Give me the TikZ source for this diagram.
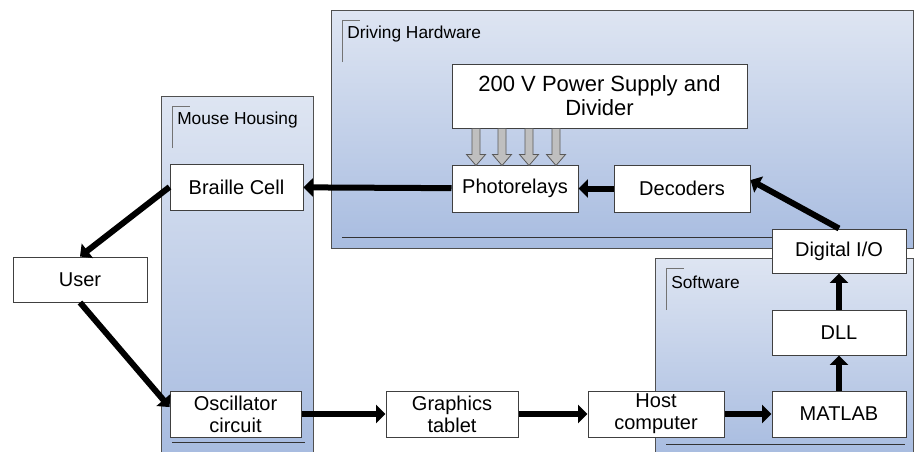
\documentclass[tikz,border=0pt]{standalone}
\usepackage{fontspec}
\setmainfont{Liberation Sans}
\usetikzlibrary{arrows.meta}
\definecolor{grouptop}{RGB}{222,229,242}
\definecolor{groupbottom}{RGB}{168,188,224}
\definecolor{groupline}{RGB}{80,80,80}
\tikzset{
block/.style={draw=black!75, fill=white, line width=0.75pt, minimum width=100.5pt, minimum height=34.5pt, inner sep=0pt, align=center, font=\fontsize{15}{16.5}\selectfont},
flow/.style={line width=4.5pt, -{Triangle[length=7pt,width=13.5pt]}},
feed/.style={draw=black!65, fill=black!25, line width=0.6pt},
grouptitle/.style={anchor=west, inner sep=0pt, font=\fontsize{13}{14}\selectfont}
}
\newcommand{\groupbox}[6]{
\draw[draw=groupline, line width=0.75pt, top color=grouptop, bottom color=groupbottom] (#1,#2) rectangle (#3,#4);
\draw[black!55, line width=0.6pt] (#1+11,#2+52) -- (#1+11,#2+10) -- (#1+29,#2+10);
\node[grouptitle] (#6) at (#1+16,#2+24) {#5};
\draw[black!80, line width=0.6pt] (#1+11,#4-11) -- (#3-8,#4-11);
}

\begin{document}
\begin{tikzpicture}[x=0.75pt,y=-0.75pt]
\useasboundingbox (0,0) rectangle (914,451);

\groupbox{331}{10}{913}{248}{Driving Hardware}{hwtitle}
\groupbox{161}{96}{313}{453}{Mouse Housing}{mousetitle}
\groupbox{655}{258}{913}{455}{Software}{swtitle}

\node[block, minimum width=221.25pt, minimum height=48pt, font=\fontsize{16.5}{18}\selectfont] (power) at (599.5,96) {200 V Power Supply and\\Divider};
\node[block, minimum width=94.5pt, minimum height=35.25pt] (photo) at (515,188.5) {Photorelays};
\node[block, minimum width=102pt, minimum height=35.25pt] (decoders) at (682,188.5) {Decoders};
\node[block, minimum width=99.75pt] (braille) at (236.5,187) {Braille Cell};
\node[block, minimum height=33.75pt] (user) at (80,279.5) {User};
\node[block, minimum width=98.25pt] (osc) at (235.5,414) {Oscillator\\circuit};
\node[block, minimum width=99pt] (tablet) at (452,414) {Graphics\\tablet};
\node[block, minimum width=102pt] (host) at (656,414) {Host\\computer};
\node[block] (matlab) at (839,414) {MATLAB};
\node[block, minimum height=33.75pt] (dll) at (839,332.5) {DLL};
\node[block, minimum height=33pt] (dio) at (839,251) {Digital I/O};

\foreach \x in {476,502,529,556}
  \draw[feed] (\x,0 |- power.south) ++(-4,0) -- ++(0,26) -- ++(-5.5,0) -- ++(9.5,11) -- ++(9.5,-11) -- ++(-5.5,0) -- ++(0,-26) -- cycle;

\draw[flow] (photo) -- (braille);
\draw[flow] (decoders) -- (photo);
\draw[flow] (dio.north) -- (decoders.7);
\draw[flow] (dll) -- (dio);
\draw[flow] (matlab) -- (dll);
\draw[flow] (host) -- (matlab);
\draw[flow] (tablet) -- (host);
\draw[flow] (osc) -- (tablet);
\draw[flow] (braille.west) -- (user.north);
\draw[flow] (user.south) -- (osc.174);
\end{tikzpicture}
\end{document}
